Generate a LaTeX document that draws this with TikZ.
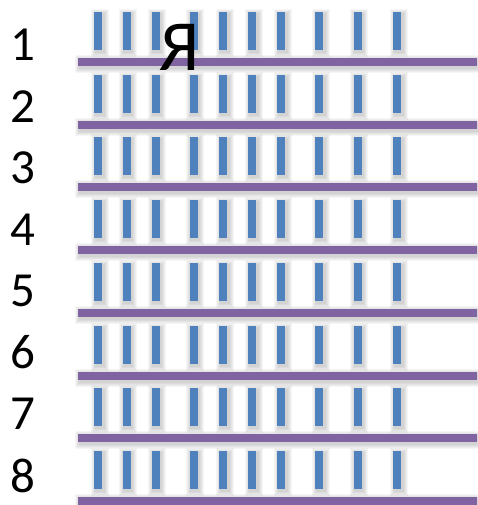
\documentclass[tikz,border=0pt]{standalone}
\usepackage{fontspec}
\setmainfont{Carlito}
\definecolor{barblue}{HTML}{4F81BD}
\definecolor{linepurple}{HTML}{8064A2}
\tikzset{
  shlayer/.style={fill=black,fill opacity=0.035},
  barbox/.style={fill=barblue},
  rowline/.style={fill=linepurple},
  numlabel/.style={font=\fontsize{49}{49}\selectfont,inner sep=0pt},
}
\begin{document}
\begin{tikzpicture}[x=1pt,y=-1pt]
\useasboundingbox[fill=white] (0,0) rectangle (477,505);
% soft shadows
\foreach \k in {1,...,8}{
  \pgfmathsetmacro{\ly}{62+(\k-1)*62.7}
  \foreach \s in {1,2,3,4,5}{
    \fill[shlayer] (78+1.5-\s,\ly-4+2-\s) rectangle (477+1.5+\s,\ly+4+2+\s);
    \foreach \bx in {98,126.5,155.5,193.5,223,252,281,319,357.5,397}{
      \fill[shlayer] (\bx-4+1.5-\s,\ly-50+2-\s) rectangle (\bx+4+1.5+\s,\ly-12+2+\s);
    }
  }
}
\foreach \k in {1,...,8}{
  \pgfmathsetmacro{\ly}{62+(\k-1)*62.7}
  \fill[rowline] (78,\ly-4) rectangle (477,\ly+4);
  \foreach \bx in {98,126.5,155.5,193.5,223,252,281,319,357.5,397}{
    \fill[barbox] (\bx-4,\ly-50) rectangle (\bx+4,\ly-12);
  }
  \pgfmathsetmacro{\ny}{45+(\k-1)*61.5}
  \node[numlabel] (n\k) at (22.5,\ny) {\k};
}
\node[font=\fontsize{72}{72}\selectfont,inner sep=0pt] (ya) at (179,47.5) {Я};
\end{tikzpicture}
\end{document}
